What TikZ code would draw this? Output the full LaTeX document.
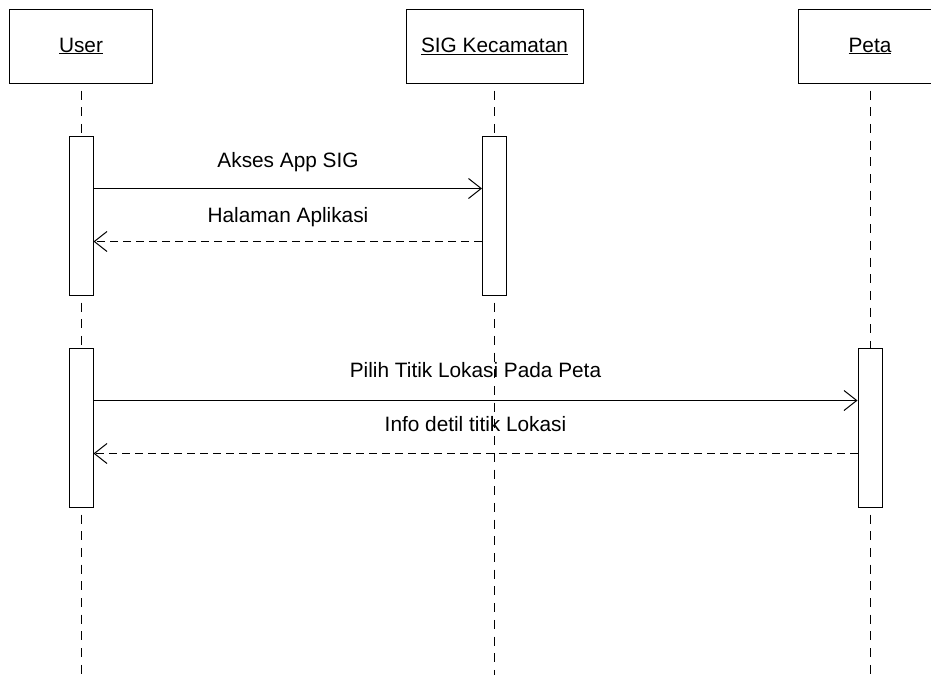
\documentclass[tikz,border=0pt]{standalone}
\usepackage{fontspec}
\setmainfont{Liberation Sans}
\usetikzlibrary{arrows.meta}
\begin{document}
\begin{tikzpicture}[x=1pt,y=-1pt,
 obj/.style={draw, line width=1pt, minimum height=74pt, inner sep=0pt, font=\fontsize{20.8}{24}\selectfont},
 act/.style={draw, line width=1pt, fill=white, minimum width=24pt, minimum height=159pt, inner sep=0pt},
 life/.style={line width=1pt, dash pattern=on 9pt off 7.7pt, dash phase=9.7pt},
 msg/.style={line width=1pt, -{Straight Barb[length=12.7pt,width=20pt,line width=1pt]}},
 ret/.style={msg, dash pattern=on 8pt off 5pt},
 lbl/.style={anchor=base, inner sep=0pt, font=\fontsize{20.8}{24}\selectfont}]
\useasboundingbox (0,0) rectangle (931,675);
\begin{scope}
\clip (0,0) rectangle (931,675);
% objects
\node[obj, minimum width=143pt] (user) at (81,46) {\underline{User}};
\node[obj, minimum width=177pt] (sig) at (494.5,46) {\underline{SIG Kecamatan}};
\node[obj, minimum width=144pt] (peta) at (870,46) {\underline{Peta}};
% activations
\node[act] (ua1) at (81,215.5) {};
\node[act] (sa1) at (494.5,215.5) {};
\node[act] (ua2) at (81,427.5) {};
\node[act] (pa1) at (870,427.5) {};
% lifeline ends
\coordinate (uend) at (81,675);
\coordinate (send) at (494.5,675);
\coordinate (pend) at (870,675);
% lifelines
\draw[life] (user.south) -- (ua1.north);
\draw[life] (ua1.south) -- (ua2.north);
\draw[life] (ua2.south) -- (uend);
\draw[life] (sig.south) -- (sa1.north);
\draw[life] (sa1.south) -- (send);
\draw[life] (peta.south) -- (pa1.north);
\draw[life] (pa1.south) -- (pend);
% messages
\draw[msg] ([yshift=-53pt]ua1.north east) -- ([yshift=-53pt]sa1.north west);
\draw[ret] ([yshift=-106pt]sa1.north west) -- ([yshift=-106pt]ua1.north east);
\draw[msg] ([yshift=-53pt]ua2.north east) -- ([yshift=-53pt]pa1.north west);
\draw[ret] ([yshift=-106pt]pa1.north west) -- ([yshift=-106pt]ua2.north east);
% labels
\node[lbl] (l1) at (288,167) {Akses App SIG};
\node[lbl] (l2) at (288,222) {Halaman Aplikasi};
\node[lbl] (l3) at (475.5,377) {Pilih Titik Lokasi Pada Peta};
\node[lbl] (l4) at (475.5,431) {Info detil titik Lokasi};
\end{scope}
\end{tikzpicture}
\end{document}
